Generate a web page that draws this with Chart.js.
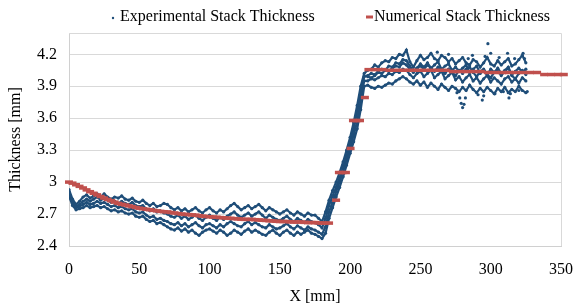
<!DOCTYPE html>
<html>
<head>
<meta charset="utf-8">
<script src="https://cdn.jsdelivr.net/npm/chart.js@4.4.1/dist/chart.umd.min.js"></script>
<style>
  html, body { margin: 0; padding: 0; background: #fff; }
  #wrap { width: 579px; height: 308px; }
</style>
</head>
<body>
<div id="wrap"><canvas id="thicknessChart" width="579" height="308"></canvas></div>
<script>
// x positions of the measured scans [mm]
const expX = [
  0, 2.5, 5, 7.5, 10, 12.5, 15, 17.5, 20, 22.5,
  25, 27.5, 30, 32.5, 35, 37.5, 40, 42.5, 45, 47.5,
  50, 52.5, 55, 57.5, 60, 62.5, 65, 67.5, 70, 72.5,
  75, 77.5, 80, 82.5, 85, 87.5, 90, 92.5, 95, 97.5,
  100, 102.5, 105, 107.5, 110, 112.5, 115, 117.5, 120, 122.5,
  125, 127.5, 130, 132.5, 135, 137.5, 140, 142.5, 145, 147.5,
  150, 152.5, 155, 157.5, 160, 162.5, 165, 167.5, 170, 172.5,
  175, 177.5, 180, 182.5, 185, 187.5, 190, 192.5, 195, 197.5,
  200, 202.5, 205, 207.5, 210, 212.5, 215, 217.5, 220, 222.5,
  225, 227.5, 230, 232.5, 235, 237.5, 240, 242.5, 245, 247.5,
  250, 252.5, 255, 257.5, 260, 262.5, 265, 267.5, 270, 272.5,
  275, 277.5, 280, 282.5, 285, 287.5, 290, 292.5, 295, 297.5,
  300, 302.5, 305, 307.5, 310, 312.5, 315, 317.5, 320, 322.5, 325
];

// four measured scans (thickness in mm), top to bottom
const expScan1 = [
  2.93, 2.84, 2.79, 2.82, 2.86, 2.88, 2.85, 2.87, 2.89, 2.86,
  2.89, 2.86, 2.84, 2.86, 2.85, 2.87, 2.84, 2.83, 2.85, 2.82,
  2.81, 2.83, 2.80, 2.78, 2.80, 2.77, 2.78, 2.80, 2.79, 2.76,
  2.74, 2.76, 2.73, 2.75, 2.72, 2.74, 2.76, 2.73, 2.71, 2.74,
  2.76, 2.73, 2.71, 2.74, 2.72, 2.75, 2.78, 2.80, 2.77, 2.74,
  2.76, 2.78, 2.75, 2.77, 2.79, 2.76, 2.73, 2.76, 2.74, 2.72,
  2.70, 2.72, 2.74, 2.71, 2.69, 2.72, 2.70, 2.68, 2.71, 2.69,
  2.69, 2.66, 2.63, 2.72, 2.83, 2.92, 3.00, 3.09, 3.19, 3.30,
  3.42, 3.56, 3.72, 3.90, 4.02, 4.05, 4.06, 4.10, 4.08, 4.12,
  4.14, 4.13, 4.17, 4.16, 4.20, 4.19, 4.24, 4.13, 4.08, 4.14,
  4.19, 4.15, 4.17, 4.21, 4.16, 4.14, 4.19, 4.17, 4.13, 4.16,
  4.11, 4.14, 4.17, 4.12, 4.10, 4.15, 4.13, 4.08, 4.12, 4.17,
  4.11, 4.09, 4.14, 4.10, 4.13, 4.16, 4.09, 4.11, 4.15, 4.19, 4.12
];
const expScan2 = [
  2.91, 2.82, 2.77, 2.79, 2.82, 2.84, 2.82, 2.84, 2.86, 2.83,
  2.85, 2.83, 2.81, 2.82, 2.80, 2.82, 2.80, 2.79, 2.81, 2.78,
  2.77, 2.78, 2.75, 2.73, 2.75, 2.72, 2.73, 2.71, 2.70, 2.68,
  2.67, 2.69, 2.66, 2.68, 2.65, 2.67, 2.69, 2.66, 2.64, 2.67,
  2.69, 2.66, 2.64, 2.67, 2.65, 2.68, 2.70, 2.72, 2.69, 2.67,
  2.69, 2.71, 2.68, 2.70, 2.72, 2.69, 2.66, 2.69, 2.67, 2.65,
  2.64, 2.66, 2.68, 2.65, 2.63, 2.66, 2.64, 2.62, 2.65, 2.63,
  2.62, 2.60, 2.57, 2.66, 2.78, 2.87, 2.95, 3.04, 3.14, 3.25,
  3.36, 3.50, 3.65, 3.84, 3.99, 4.00, 4.02, 4.01, 4.04, 4.06,
  4.05, 4.09, 4.08, 4.12, 4.11, 4.15, 4.14, 4.09, 4.04, 4.07,
  4.11, 4.08, 4.12, 4.07, 4.10, 4.13, 4.06, 4.09, 4.11, 4.05,
  4.08, 4.04, 4.07, 4.10, 4.03, 4.06, 4.09, 4.02, 4.05, 4.01,
  4.06, 4.03, 4.07, 4.02, 4.05, 4.08, 4.01, 4.04, 4.07, 4.03, 4.06
];
const expScan3 = [
  2.89, 2.80, 2.76, 2.77, 2.79, 2.81, 2.79, 2.80, 2.82, 2.80,
  2.81, 2.79, 2.77, 2.78, 2.76, 2.77, 2.75, 2.74, 2.75, 2.72,
  2.71, 2.72, 2.69, 2.67, 2.68, 2.65, 2.66, 2.64, 2.63, 2.61,
  2.60, 2.62, 2.59, 2.61, 2.58, 2.60, 2.62, 2.59, 2.57, 2.60,
  2.61, 2.59, 2.57, 2.60, 2.58, 2.61, 2.63, 2.61, 2.59, 2.58,
  2.61, 2.63, 2.60, 2.62, 2.60, 2.58, 2.57, 2.60, 2.58, 2.56,
  2.57, 2.59, 2.61, 2.58, 2.56, 2.59, 2.57, 2.55, 2.58, 2.56,
  2.55, 2.53, 2.51, 2.58, 2.72, 2.81, 2.91, 3.00, 3.10, 3.21,
  3.32, 3.44, 3.57, 3.76, 3.95, 3.95, 3.97, 3.96, 3.98, 4.00,
  3.99, 4.02, 4.01, 4.04, 4.03, 4.06, 4.05, 4.01, 3.98, 4.02,
  4.04, 3.99, 4.02, 4.05, 3.98, 4.01, 4.04, 3.97, 4.00, 4.03,
  3.96, 3.99, 3.94, 3.98, 4.01, 3.95, 3.98, 3.93, 3.97, 4.00,
  3.94, 3.98, 3.95, 3.92, 3.97, 3.99, 3.94, 3.97, 3.93, 3.98, 3.95
];
const expScan4 = [
  2.87, 2.78, 2.74, 2.75, 2.76, 2.78, 2.76, 2.77, 2.78, 2.76,
  2.77, 2.75, 2.73, 2.74, 2.72, 2.73, 2.71, 2.70, 2.71, 2.68,
  2.67, 2.68, 2.65, 2.63, 2.64, 2.61, 2.62, 2.60, 2.58, 2.56,
  2.55, 2.57, 2.54, 2.56, 2.53, 2.55, 2.52, 2.50, 2.53, 2.55,
  2.56, 2.54, 2.52, 2.55, 2.53, 2.50, 2.52, 2.55, 2.53, 2.51,
  2.54, 2.56, 2.53, 2.55, 2.53, 2.51, 2.50, 2.53, 2.55, 2.52,
  2.50, 2.53, 2.55, 2.52, 2.50, 2.53, 2.51, 2.53, 2.55, 2.52,
  2.51, 2.49, 2.47, 2.52, 2.66, 2.76, 2.86, 2.95, 3.05, 3.16,
  3.27, 3.38, 3.50, 3.68, 3.90, 3.91, 3.89, 3.88, 3.90, 3.89,
  3.91, 3.93, 3.92, 3.95, 3.97, 3.99, 3.97, 3.94, 3.92, 3.95,
  3.91, 3.94, 3.89, 3.93, 3.90, 3.87, 3.92, 3.89, 3.86, 3.90,
  3.88, 3.85, 3.89, 3.86, 3.91, 3.87, 3.84, 3.88, 3.85, 3.89,
  3.86, 3.83, 3.88, 3.85, 3.89, 3.84, 3.87, 3.85, 3.90, 3.86, 3.84
];

// extra scan that only covers the thick side
const expRightX = [
  212.5, 215, 217.5, 220, 222.5, 225, 227.5, 230, 232.5, 235,
  237.5, 240, 242.5, 245, 247.5, 250, 252.5, 255, 257.5, 260,
  262.5, 265, 267.5, 270, 272.5, 275, 277.5, 280, 282.5, 285,
  287.5, 290, 292.5, 295, 297.5, 300, 302.5, 305, 307.5, 310,
  312.5, 315, 317.5, 320, 322.5, 325
];
const expScan5 = [
  3.99, 3.98, 4.00, 4.03, 4.02, 4.05, 4.04, 4.07, 4.09, 4.08,
  4.12, 4.10, 4.06, 4.03, 4.07, 4.09, 4.06, 4.10, 4.07, 4.04,
  4.08, 4.05, 4.02, 4.06, 4.03, 4.00, 4.05, 4.02, 4.06, 4.08,
  4.03, 3.99, 4.04, 4.06, 4.01, 3.98, 4.03, 4.05, 4.00, 4.04,
  4.07, 4.00, 3.97, 4.02, 4.05, 4.01
];

// scattered single readings on the thick side
const expOutX = [262, 270, 276, 278, 279, 280, 281, 282, 284, 287, 291, 294, 295, 296, 298, 300, 303, 306, 309, 312, 313, 314, 317, 320, 323, 324, 326];
const expOutY = [4.22, 4.20, 3.84, 3.79, 3.74, 3.70, 3.73, 3.79, 4.16, 4.19, 3.82, 3.77, 3.81, 4.18, 4.30, 4.21, 3.83, 4.17, 3.85, 4.21, 3.79, 3.83, 4.16, 3.86, 4.21, 4.16, 3.85];

// numerical model
const numX = [
  0, 2.5, 5, 7.5, 10, 12.5, 15, 17.5, 20, 22.5, 25, 27.5, 30, 32.5, 35, 37.5, 40, 42.5, 45, 47.5,
  50, 52.5, 55, 57.5, 60, 62.5, 65, 67.5, 70, 72.5, 75, 77.5, 80, 82.5, 85, 87.5, 90, 92.5, 95, 97.5,
  100, 102.5, 105, 107.5, 110, 112.5, 115, 117.5, 120, 122.5, 125, 127.5, 130, 132.5, 135, 137.5, 140, 142.5, 145, 147.5,
  150, 152.5, 155, 157.5, 160, 162.5, 165, 167.5, 170, 172.5, 175, 177.5, 180, 182.5, 185,
  190, 192, 194.5, 197, 200.3, 202, 204.5, 207, 210.5,
  213, 218, 223, 228, 233, 238, 243, 248, 253, 258, 263, 268,
  273, 278, 283, 288, 293, 298, 303, 308, 313, 318, 323, 328, 333, 338, 343, 348, 352
];
const numY = [
  3.000, 2.990, 2.975, 2.960, 2.945, 2.927, 2.910, 2.895, 2.880, 2.865, 2.850, 2.837, 2.825, 2.812, 2.800, 2.792, 2.785, 2.777, 2.770, 2.762,
  2.755, 2.750, 2.745, 2.740, 2.735, 2.730, 2.725, 2.722, 2.720, 2.715, 2.710, 2.705, 2.700, 2.697, 2.695, 2.692, 2.690, 2.685, 2.680, 2.677,
  2.675, 2.672, 2.670, 2.667, 2.665, 2.662, 2.660, 2.657, 2.655, 2.652, 2.650, 2.650, 2.650, 2.647, 2.645, 2.642, 2.640, 2.637, 2.635, 2.632,
  2.630, 2.630, 2.630, 2.627, 2.625, 2.625, 2.625, 2.622, 2.620, 2.620, 2.620, 2.617, 2.615, 2.615, 2.615,
  2.83, 3.09, 3.09, 3.09, 3.316, 3.578, 3.578, 3.578, 3.794,
  4.056, 4.056, 4.056, 4.05, 4.05, 4.05, 4.05, 4.05, 4.05, 4.05, 4.05, 4.05,
  4.038, 4.038, 4.038, 4.038, 4.038, 4.029, 4.029, 4.029, 4.029, 4.029, 4.029, 4.029, 4.029, 4.01, 4.01, 4.01, 4.01
];

const yTicks = [2.4, 2.7, 3.0, 3.3, 3.6, 3.9, 4.2];

const BLUE = "#1F4E79";
const RED = "#C0504D";
const FONT = "Liberation Serif";

function pts(xs, ys) {
  return xs.map((x, i) => ({ x: x, y: ys[i] }));
}

function scanSet(xs, ys) {
  return {
    label: "Experimental Stack Thickness",
    data: pts(xs, ys),
    showLine: true,
    borderColor: BLUE,
    borderWidth: 2.2,
    pointRadius: 1.6,
    pointBorderWidth: 0,
    pointBackgroundColor: BLUE,
    order: 1
  };
}

// light frame on top and right of the plot area
const plotFrame = {
  id: "plotFrame",
  beforeDatasetsDraw(chart) {
    const a = chart.chartArea;
    const ctx = chart.ctx;
    ctx.save();
    ctx.strokeStyle = "#d9d9d9";
    ctx.lineWidth = 1;
    ctx.beginPath();
    ctx.moveTo(a.left, a.top + 0.5);
    ctx.lineTo(a.right + 0.5, a.top + 0.5);
    ctx.lineTo(a.right + 0.5, a.bottom);
    ctx.stroke();
    ctx.restore();
  }
};

// legend drawn like the original (dot marker and dash marker)
const legendRow = {
  id: "legendRow",
  afterDraw(chart) {
    const ctx = chart.ctx;
    const y = 17;
    ctx.save();
    ctx.fillStyle = BLUE;
    ctx.beginPath();
    ctx.arc(113, y + 1, 1.2, 0, Math.PI * 2);
    ctx.fill();
    ctx.strokeStyle = RED;
    ctx.lineWidth = 3;
    ctx.beginPath();
    ctx.moveTo(366, y);
    ctx.lineTo(373, y);
    ctx.stroke();
    ctx.fillStyle = "#000";
    ctx.font = "16px '" + FONT + "'";
    ctx.textBaseline = "middle";
    ctx.fillText("Experimental Stack Thickness", 120, y);
    ctx.fillText("Numerical Stack Thickness", 374, y);
    ctx.restore();
  }
};

const ctx = document.getElementById("thicknessChart").getContext("2d");
const chart = new Chart(ctx, {
  type: "scatter",
  data: {
    datasets: [
      {
        label: "Numerical Stack Thickness",
        data: pts(numX, numY),
        showLine: false,
        pointStyle: "line",
        pointRadius: 4,
        pointBorderWidth: 3.5,
        pointBorderColor: RED,
        pointBackgroundColor: RED,
        clip: false,
        order: 0
      },
      scanSet(expX, expScan1),
      scanSet(expX, expScan2),
      scanSet(expX, expScan3),
      scanSet(expX, expScan4),
      scanSet(expRightX, expScan5),
      {
        label: "Experimental Stack Thickness",
        data: pts(expOutX, expOutY),
        showLine: false,
        pointRadius: 1.6,
        pointBorderWidth: 0,
        pointBackgroundColor: BLUE,
        order: 1
      }
    ]
  },
  options: {
    responsive: false,
    animation: false,
    layout: { padding: { top: 33, right: 12, left: 0, bottom: 0 } },
    plugins: {
      legend: { display: false },
      tooltip: { enabled: false }
    },
    scales: {
      x: {
        type: "linear",
        min: 0,
        max: 350,
        afterFit: (s) => { s.height = 62; },
        ticks: { stepSize: 50, color: "#000", padding: 6, font: { family: FONT, size: 16 } },
        grid: { display: false },
        border: { color: "#d0d0d0" },
        title: { display: true, text: "X [mm]", color: "#000", font: { family: FONT, size: 16 }, padding: { top: 0, bottom: 2 } }
      },
      y: {
        min: 2.4,
        max: 4.4,
        afterFit: (s) => { s.width = 69; },
        afterBuildTicks: (s) => { s.ticks = yTicks.map((v) => ({ value: v })); },
        ticks: {
          color: "#000",
          padding: 12,
          font: { family: FONT, size: 16 },
          callback: (v) => String(+Number(v).toFixed(1))
        },
        grid: { color: "#d9d9d9", drawTicks: false },
        border: { color: "#d0d0d0" },
        title: { display: true, text: "Thickness [mm]", color: "#000", font: { family: FONT, size: 16 }, padding: { top: 6, bottom: 0 } }
      }
    }
  },
  plugins: [plotFrame, legendRow]
});
</script>
</body>
</html>
